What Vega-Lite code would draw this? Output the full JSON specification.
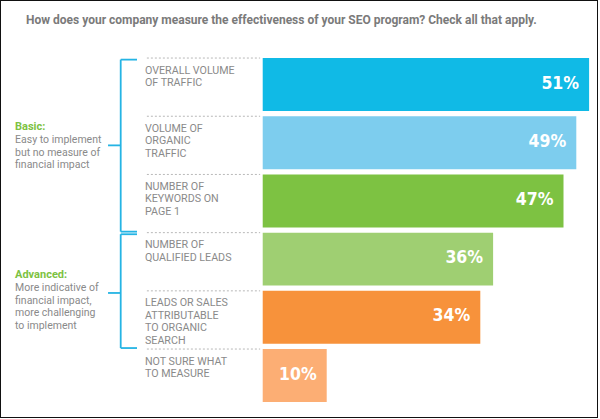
{
  "$schema": "https://vega.github.io/schema/vega-lite/v6.json",
  "width": 598,
  "height": 418,
  "autosize": "none",
  "padding": 0,
  "background": "white",
  "config": {"view": {"stroke": "#111111", "strokeWidth": 2}},
  "title": {
    "text": "How does your company measure the effectiveness of your SEO program? Check all that apply.",
    "anchor": "start",
    "frame": "group",
    "orient": "top",
    "offset": -36,
    "baseline": "alphabetic",
    "dx": 26,
    "font": "Roboto",
    "fontSize": 12,
    "fontWeight": "bold",
    "color": "#7a7a7a"
  },
  "datasets": {
    "measures": [
      {"measure": "Overall volume of traffic", "label": "OVERALL VOLUME\nOF TRAFFIC", "pct": 51},
      {"measure": "Volume of organic traffic", "label": "VOLUME OF\nORGANIC\nTRAFFIC", "pct": 49},
      {"measure": "Number of keywords on page 1", "label": "NUMBER OF\nKEYWORDS ON\nPAGE 1", "pct": 47},
      {"measure": "Number of qualified leads", "label": "NUMBER OF\nQUALIFIED LEADS", "pct": 36},
      {"measure": "Leads or sales attributable to organic search", "label": "LEADS OR SALES\nATTRIBUTABLE\nTO ORGANIC\nSEARCH", "pct": 34},
      {"measure": "Not sure what to measure", "label": "NOT SURE WHAT\nTO MEASURE", "pct": 10}
    ],
    "groups": [
      {"group": "Basic:", "desc": "Easy to implement\nbut no measure of\nfinancial impact", "first": "Overall volume of traffic", "last": "Number of keywords on page 1", "mid": "Volume of organic traffic"},
      {"group": "Advanced:", "desc": "More indicative of\nfinancial impact,\nmore challenging\nto implement", "first": "Number of qualified leads", "last": "Leads or sales attributable to organic search", "mid": "Leads or sales attributable to organic search"}
    ]
  },
  "layer": [
    {
      "data": {"name": "measures"},
      "mark": {"type": "bar"},
      "encoding": {
        "y": {
          "field": "measure", "type": "nominal", "axis": null,
          "scale": {
            "type": "band",
            "domain": ["Overall volume of traffic", "Volume of organic traffic", "Number of keywords on page 1", "Number of qualified leads", "Leads or sales attributable to organic search", "Not sure what to measure"],
            "paddingInner": 0.09, "paddingOuter": 0.636, "align": 0.784
          }
        },
        "x": {"field": "pct", "type": "quantitative", "axis": null, "scale": {"domain": [-41.05, 52.39], "nice": false, "zero": false}},
        "x2": {"datum": 0},
        "color": {
          "field": "measure", "type": "nominal", "legend": null,
          "scale": {
            "domain": ["Overall volume of traffic", "Volume of organic traffic", "Number of keywords on page 1", "Number of qualified leads", "Leads or sales attributable to organic search", "Not sure what to measure"],
            "range": ["#10bae6", "#7dcdee", "#7dc242", "#9fcf72", "#f7923b", "#fcae74"]
          }
        }
      }
    },
    {
      "data": {"name": "measures"},
      "mark": {"type": "rule", "strokeDash": [2, 2], "color": "#b8b8b8", "strokeWidth": 1},
      "encoding": {
        "x": {"datum": -18.1, "type": "quantitative", "axis": null},
        "x2": {"datum": -0.4},
        "y": {"field": "measure", "type": "nominal", "bandPosition": 0, "axis": null}
      }
    },
    {
      "data": {"name": "measures"},
      "transform": [{"calculate": "datum.pct + '%'", "as": "pctLabel"}],
      "mark": {"type": "text", "align": "right", "baseline": "middle", "dx": -10, "dy": -1, "color": "white", "font": "DejaVu Sans Condensed", "fontWeight": "bold", "fontSize": 17.5},
      "encoding": {
        "x": {"field": "pct", "type": "quantitative", "axis": null},
        "y": {"field": "measure", "type": "nominal", "axis": null},
        "text": {"field": "pctLabel"}
      }
    },
    {
      "data": {"name": "measures"},
      "mark": {"type": "text", "align": "left", "baseline": "alphabetic", "dy": 15.5, "lineBreak": "\n", "lineHeight": 12.4, "color": "#8a8a8a", "font": "Roboto", "fontSize": 10.7},
      "encoding": {
        "x": {"datum": -18.4, "type": "quantitative", "axis": null},
        "y": {"field": "measure", "type": "nominal", "bandPosition": 0, "axis": null},
        "text": {"field": "label"}
      }
    },
    {
      "data": {"name": "groups"},
      "mark": {"type": "rule", "color": "#25b4e4", "strokeWidth": 1.8},
      "encoding": {
        "x": {"datum": -22.19, "type": "quantitative", "axis": null},
        "y": {"field": "first", "type": "nominal", "bandPosition": 0.03, "axis": null},
        "y2": {"field": "last", "bandPosition": 1.08}
      }
    },
    {
      "data": {"name": "groups"},
      "mark": {"type": "rule", "color": "#25b4e4", "strokeWidth": 1.8},
      "encoding": {
        "x": {"datum": -22.19, "type": "quantitative", "axis": null},
        "x2": {"datum": -19.64},
        "y": {"field": "first", "type": "nominal", "bandPosition": 0.03, "axis": null}
      }
    },
    {
      "data": {"name": "groups"},
      "mark": {"type": "rule", "color": "#25b4e4", "strokeWidth": 1.8},
      "encoding": {
        "x": {"datum": -22.19, "type": "quantitative", "axis": null},
        "x2": {"datum": -19.64},
        "y": {"field": "last", "type": "nominal", "bandPosition": 1.08, "axis": null}
      }
    },
    {
      "data": {"name": "groups"},
      "transform": [{"filter": "datum.group === 'Basic:'"}],
      "encoding": {"y": {"field": "mid", "type": "nominal", "bandPosition": 0.55, "axis": null}},
      "layer": [
        {
          "mark": {"type": "rule", "color": "#25b4e4", "strokeWidth": 1.8},
          "encoding": {"x": {"datum": -24.17, "type": "quantitative", "axis": null}, "x2": {"datum": -22.19}}
        },
        {
          "mark": {"type": "text", "align": "left", "baseline": "alphabetic", "dy": -15, "color": "#7dc242", "font": "Roboto", "fontWeight": "bold", "fontSize": 11},
          "encoding": {"x": {"datum": -38.7, "type": "quantitative", "axis": null}, "text": {"field": "group"}}
        },
        {
          "mark": {"type": "text", "align": "left", "baseline": "alphabetic", "dy": -2, "lineBreak": "\n", "lineHeight": 12.4, "color": "#8a8a8a", "font": "Roboto", "fontSize": 10.5},
          "encoding": {"x": {"datum": -38.7, "type": "quantitative", "axis": null}, "text": {"field": "desc"}}
        }
      ]
    },
    {
      "data": {"name": "groups"},
      "transform": [{"filter": "datum.group === 'Advanced:'"}],
      "encoding": {"y": {"field": "mid", "type": "nominal", "bandPosition": 0.04, "axis": null}},
      "layer": [
        {
          "mark": {"type": "rule", "color": "#25b4e4", "strokeWidth": 1.8},
          "encoding": {"x": {"datum": -24.17, "type": "quantitative", "axis": null}, "x2": {"datum": -22.19}}
        },
        {
          "mark": {"type": "text", "align": "left", "baseline": "alphabetic", "dy": -15, "color": "#7dc242", "font": "Roboto", "fontWeight": "bold", "fontSize": 11},
          "encoding": {"x": {"datum": -38.7, "type": "quantitative", "axis": null}, "text": {"field": "group"}}
        },
        {
          "mark": {"type": "text", "align": "left", "baseline": "alphabetic", "dy": -1.5, "lineBreak": "\n", "lineHeight": 12.4, "color": "#8a8a8a", "font": "Roboto", "fontSize": 10.5},
          "encoding": {"x": {"datum": -38.7, "type": "quantitative", "axis": null}, "text": {"field": "desc"}}
        }
      ]
    }
  ]
}
